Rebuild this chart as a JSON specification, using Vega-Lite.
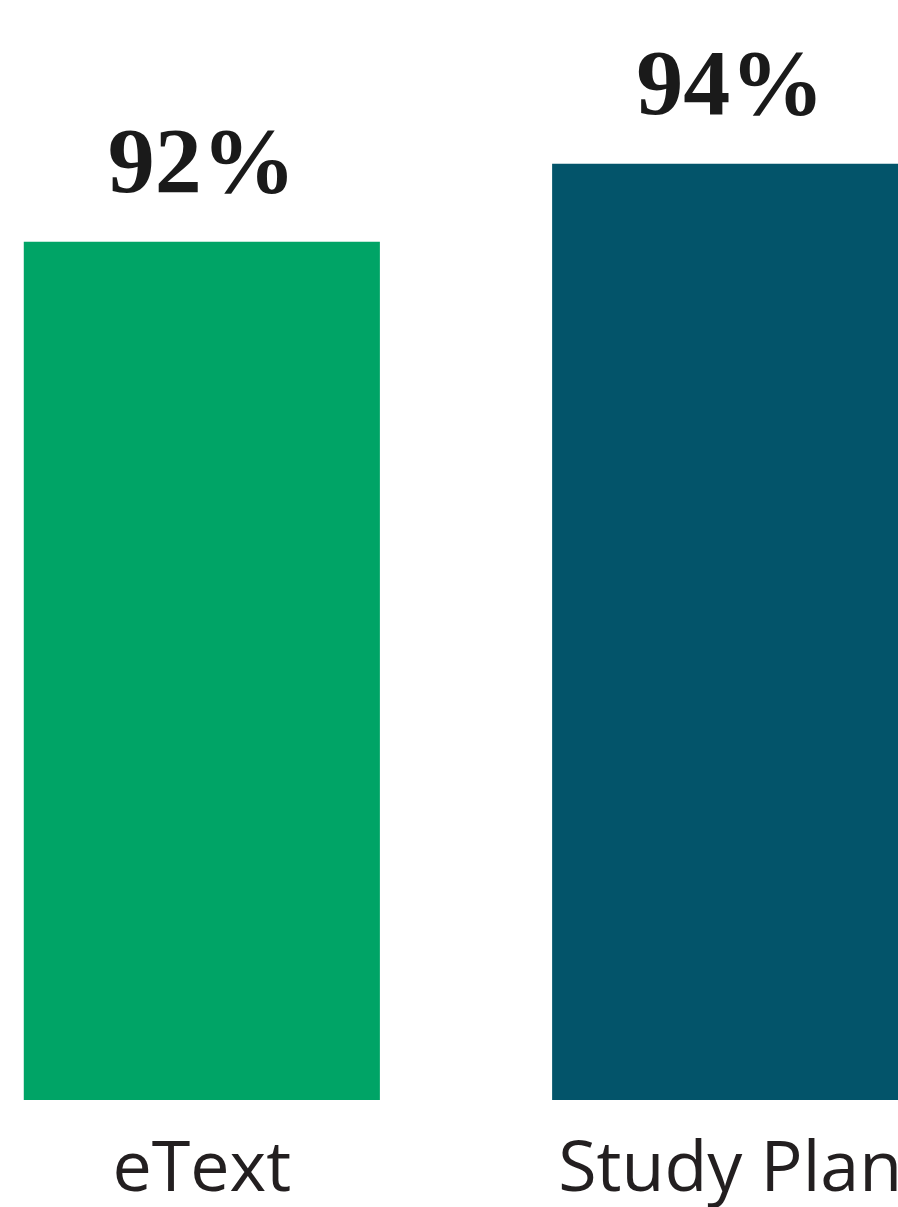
{
  "$schema": "https://vega.github.io/schema/vega-lite/v6.json",
  "width": 932,
  "height": 1100,
  "padding": {"left": 0, "top": 0, "right": 0, "bottom": 24},
  "background": "white",
  "config": {"view": {"stroke": null}},
  "data": {"values": [
    {"tool": "eText", "pct": 92, "label": "92%"},
    {"tool": "Study Plan", "pct": 94, "label": "94%"}
  ]},
  "encoding": {
    "x": {
      "field": "tool", "type": "nominal", "sort": null,
      "scale": {"paddingInner": 0.326, "paddingOuter": 0.045},
      "axis": {
        "title": null, "domain": false, "ticks": false, "labelAngle": 0,
        "labelFont": "Open Sans", "labelFontSize": 70, "labelColor": "#231f20",
        "labelPadding": 35, "labelLimit": 0, "labelOverlap": false
      }
    },
    "y": {
      "field": "pct", "type": "quantitative",
      "scale": {"domain": [70, 98.2], "nice": false, "zero": false},
      "axis": null
    }
  },
  "layer": [
    {
      "mark": {"type": "bar"},
      "encoding": {
        "y2": {"datum": 70},
        "color": {
          "field": "tool", "type": "nominal", "legend": null,
          "scale": {"domain": ["eText", "Study Plan"], "range": ["#00a466", "#03546a"]}
        }
      }
    },
    {
      "mark": {"type": "text", "font": "Liberation Serif", "fontWeight": "bold", "fontSize": 94, "baseline": "alphabetic", "dy": -50, "color": "#1a1a1a"},
      "encoding": {"text": {"field": "label"}}
    }
  ]
}
